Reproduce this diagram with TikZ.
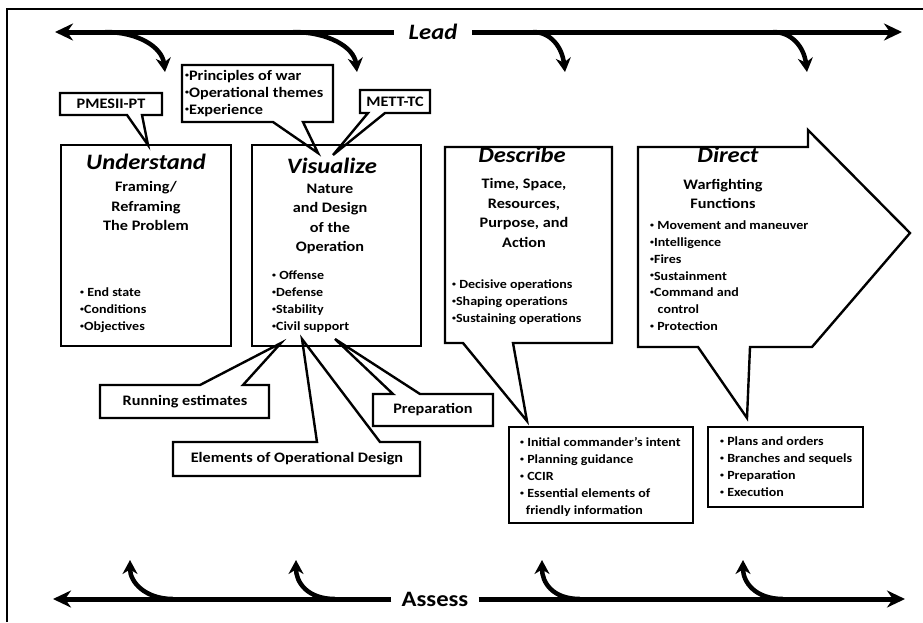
\documentclass[tikz,border=0pt]{standalone}
\usepackage{fontspec}
\setmainfont{Carlito}[FakeStretch=1.12]
\usetikzlibrary{arrows.meta}
\newcommand{\bul}{\raisebox{0.35ex}{\fontsize{7}{7}\selectfont •}}

\begin{document}
\begin{tikzpicture}[x=1pt, y=-1pt,
  frame/.style={line width=2.6pt},
  bigarrow/.style={line width=5pt, -{Stealth[length=18pt, width=17pt]}},
  turn/.style={line width=4.5pt, -{Stealth[length=14pt, width=15pt]}},
  box/.style={line width=2.4pt, line join=miter},
  title/.style={font=\fontsize{22}{24}\selectfont\bfseries\itshape},
  sub/.style={font=\fontsize{14.5}{19.5}\selectfont\bfseries, align=center},
  items/.style={font=\fontsize{12.5}{17}\selectfont\bfseries, align=left, anchor=north west, inner sep=0pt},
  tag/.style={font=\fontsize{14.5}{17}\selectfont\bfseries}]
  \useasboundingbox (0,0) rectangle (923,622);
  \fill[white] (0,0) rectangle (923,622);
  \draw[frame] (7,622) -- (7,9) -- (923,9);

  % lead and assess lines
  \node[font=\fontsize{22}{24}\selectfont\bfseries\itshape, inner xsep=15pt] (lead) at (433,32) {Lead};
  \coordinate (leadL) at (55,32);
  \coordinate (leadR) at (902,32);
  \draw[bigarrow] (lead) -- (leadL);
  \draw[bigarrow] (lead) -- (leadR);
  \foreach \s/\t [count=\i] in {105/165, 293/357, 533/565, 773/807} {
    \coordinate (down\i) at (\s,32);
    \coordinate (downtip\i) at (\t,72);
    \draw[turn] (down\i) .. controls +({0.55*(\t-\s)},0) and +(-3,-25) .. (downtip\i);
  }

  \node[font=\fontsize{22}{24}\selectfont\bfseries, inner xsep=10pt] (assess) at (435,599) {Assess};
  \coordinate (assessL) at (53,599);
  \coordinate (assessR) at (905,599);
  \draw[bigarrow] (assess) -- (assessL);
  \draw[bigarrow] (assess) -- (assessR);
  \foreach \t/\s [count=\i] in {130/173, 296/335, 542/580, 743/783} {
    \coordinate (up\i) at (\s,599);
    \coordinate (uptip\i) at (\t,560);
    \draw[turn] (up\i) .. controls +(-28,0) and +(0,22) .. (uptip\i);
  }

  % the four steps
  \draw[box] (61,145) rectangle (231,346);
  \draw[box] (252,145) rectangle (421,346);
  \draw[box] (445,147) -- (612,147) -- (612,343) -- (513,343) -- (527,421) -- (463,343) -- (445,343) -- cycle;
  \draw[box] (638,147) -- (808,147) -- (808,130) -- (910,233) -- (812,347) -- (750,347) -- (747,418) -- (698,347) -- (638,347) -- cycle;

  % callouts
  \draw[box] (60,93) -- (162,93) -- (162,115) -- (142,115) -- (148,145) -- (127,115) -- (60,115) -- cycle;
  \draw[box] (182,65) -- (333,65) -- (333,122) -- (303,122) -- (318,153) -- (273,122) -- (182,122) -- cycle;
  \draw[box] (360,90) -- (430,90) -- (430,113) -- (385,113) -- (333,155) -- (368,113) -- (360,113) -- cycle;
  \draw[box] (100,385) -- (200,385) -- (281,343) -- (243,385) -- (269,385) -- (269,418) -- (100,418) -- cycle;
  \draw[box] (173,442) -- (317,442) -- (302,339) -- (380,442) -- (420,442) -- (420,476) -- (173,476) -- cycle;
  \draw[box] (373,394) -- (393,394) -- (335,339) -- (420,394) -- (493,394) -- (493,426) -- (373,426) -- cycle;
  \draw[box] (509,427) rectangle (693,523);
  \draw[box] (708,427) rectangle (863,507);

  \node[tag] (pmesii) at (111,104) {PMESII-PT};
  \node[items, font=\fontsize{14.5}{17}\selectfont\bfseries] (principles) at (185,70) {\bul Principles of war\\\bul Operational themes\\\bul Experience};
  \node[tag] (mett) at (395,102) {METT-TC};
  \node[tag] (running) at (185,402) {Running estimates};
  \node[tag] (elements) at (297,459) {Elements of Operational Design};
  \node[tag] (preparation) at (433,410) {Preparation};

  \node[title] (understand) at (146,162) {Understand};
  \node[sub] (framing) at (146,206) {Framing/\\Reframing\\The Problem};
  \node[items] (endstate) at (80,288) {\bul\ End state\\\bul Conditions\\\bul Objectives};

  \node[title] (visualize) at (332,166) {Visualize};
  \node[sub] (nature) at (330,219) {Nature\\and Design\\of the\\Operation};
  \node[items] (offense) at (272,271) {\bul\ Offense\\\bul Defense\\\bul Stability\\\bul Civil support};

  \node[title] (describe) at (522,155) {Describe};
  \node[sub] (time) at (524,213) {Time, Space,\\Resources,\\Purpose, and\\Action};
  \node[items] (decisive) at (452,280) {\bul\ Decisive operations\\\bul Shaping operations\\\bul Sustaining operations};

  \node[title] (direct) at (728,155) {Direct};
  \node[sub] (warfighting) at (723,194) {Warfighting\\Functions};
  \node[items, font=\fontsize{12.5}{16.7}\selectfont\bfseries] (movement) at (650,221) {\bul\ Movement and maneuver\\\bul Intelligence\\\bul Fires\\\bul Sustainment\\\bul Command and\\\hspace*{0.6em}control\\\bul\ Protection};

  \node[items] (intent) at (520,437) {\bul\ Initial commander's intent\\\bul\ Planning guidance\\\bul\ CCIR\\\bul\ Essential elements of\\\hspace*{0.45em}friendly information};
  \node[items] (plans) at (720,437) {\bul\ Plans and orders\\\bul\ Branches and sequels\\\bul\ Preparation\\\bul\ Execution};
\end{tikzpicture}
\end{document}
